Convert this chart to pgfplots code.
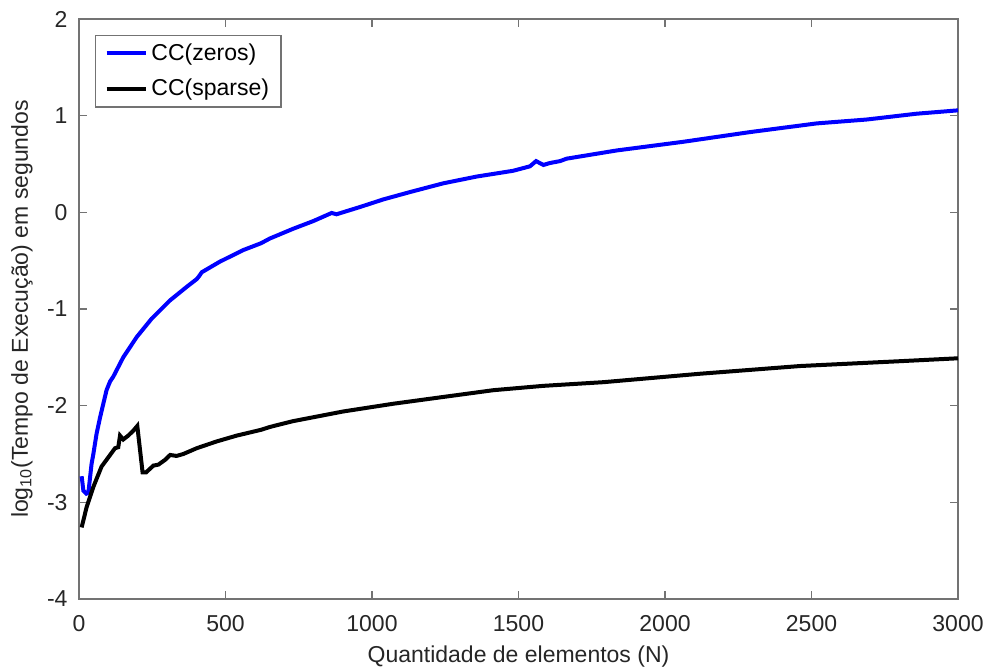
\documentclass[border=0pt]{standalone}
\usepackage{fontspec}
\setmainfont{Liberation Sans}
\usepackage{pgfplots}
\pgfplotsset{compat=1.18}

\definecolor{axgray}{gray}{0.45}
\definecolor{txtgray}{gray}{0.15}

\begin{document}
\begin{tikzpicture}
\path[use as bounding box] (-39.5pt,-36.5pt) rectangle (455pt,299.5pt);
\begin{axis}[
  scale only axis,
  width=439.5pt,height=290pt,
  xmin=0,xmax=3000,
  ymin=-4,ymax=2,
  xtick={0,500,...,3000},
  ytick={-4,-3,...,2},
  font=\fontsize{11.5}{14}\selectfont,
  /pgf/number format/assume math mode=true,
  /pgf/number format/1000 sep={},
  tick align=inside,
  major tick length=4pt,
  axis line style={axgray,line width=0.6pt},
  every tick/.style={axgray,line width=0.6pt},
  tick label style={txtgray},
  xticklabel style={yshift=-4.5pt},
  yticklabel style={xshift=-2.2pt},
  xlabel={Quantidade de elementos (N)},
  ylabel={log\textsubscript{10}(Tempo de Execução) em segundos},
  xlabel style={txtgray,at={(axis description cs:0.5,0)},anchor=center,yshift=-29pt},
  ylabel style={txtgray,at={(axis description cs:0,0.5)},anchor=center,yshift=28.5pt},
  legend style={at={(0,1)},anchor=north west,xshift=8pt,yshift=-8pt,
    draw=axgray,line width=0.6pt,font=\fontsize{11.5}{14}\selectfont,
    inner xsep=4.5pt,inner ysep=2pt,row sep=4pt,cells={anchor=west},
    nodes={inner xsep=1.5pt}},
  legend image code/.code={\draw[#1] (0cm,0cm) -- (0.7cm,0cm);},
]
\addplot[blue,line width=2pt] coordinates {
  (9,-2.73) (15,-2.88) (25,-2.91) (32,-2.90) (43,-2.60) (49,-2.50) (60,-2.29)
  (72,-2.12) (83,-1.98) (94,-1.84) (106,-1.75) (117,-1.70) (151,-1.50)
  (197,-1.29) (248,-1.10) (311,-0.91) (368,-0.77) (402,-0.69) (410,-0.66)
  (419,-0.62) (481,-0.51) (561,-0.39) (621,-0.32) (652,-0.27) (731,-0.17)
  (800,-0.09) (862,-0.007) (879,-0.02) (959,0.055) (1039,0.134) (1130,0.21)
  (1243,0.30) (1357,0.37) (1482,0.43) (1539,0.476) (1560,0.53) (1585,0.49)
  (1607,0.51) (1642,0.53) (1664,0.555) (1835,0.64) (2063,0.73) (2290,0.83)
  (2518,0.92) (2688,0.96) (2745,0.98) (2858,1.02) (3000,1.055)
};
\addlegendentry{CC(zeros)}
\addplot[black,line width=2pt] coordinates {
  (9,-3.26) (26,-3.05) (49,-2.84) (77,-2.63) (94,-2.56) (123,-2.44)
  (134,-2.43) (140,-2.31) (151,-2.35) (168,-2.31) (185,-2.26) (199,-2.21)
  (217,-2.69) (229,-2.69) (254,-2.62) (271,-2.61) (294,-2.56) (311,-2.51)
  (333,-2.52) (356,-2.50) (402,-2.44) (470,-2.37) (538,-2.31) (621,-2.25)
  (652,-2.22) (731,-2.16) (902,-2.06) (1073,-1.98) (1243,-1.91)
  (1414,-1.84) (1585,-1.795) (1790,-1.757) (2119,-1.67) (2461,-1.59)
  (2802,-1.54) (3000,-1.51)
};
\addlegendentry{CC(sparse)}
\end{axis}
\end{tikzpicture}
\end{document}
